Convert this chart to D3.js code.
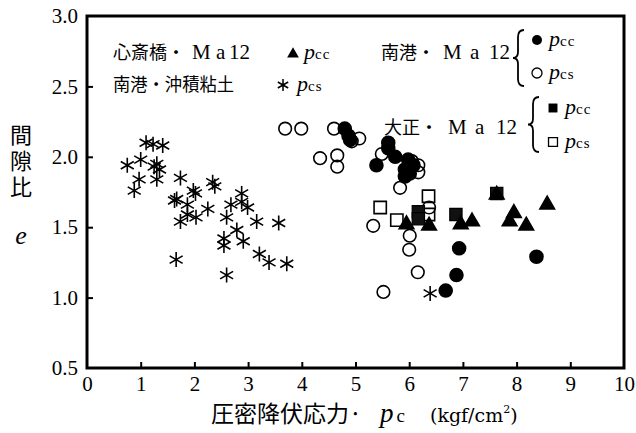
<!DOCTYPE html>
<html><head><meta charset="utf-8">
<script src="https://cdn.jsdelivr.net/npm/d3@7"></script>
<style>body{margin:0;background:#fff}</style>
</head><body>
<svg id="c" width="636" height="433"></svg>
<script>
// x: consolidation yield stress p_c (kgf/cm2), y: void ratio e
const xTicks = [0,1,2,3,4,5,6,7,8,9,10];
const yTicks = [0.5,1.0,1.5,2.0,2.5,3.0];

// 心斎橋・Ma12 p_cc (filled triangle)
const shinsaibashiPcc = [[5.95,1.52],[6.37,1.51],[6.96,1.52],[7.17,1.54],[7.63,1.73],[7.95,1.60],[7.87,1.54],[8.18,1.51],[8.57,1.66]];
// 南港・沖積粘土 p_cs (asterisk)
const nankoAlluvialPcs = [[1.10,2.10],[1.23,2.09],[1.41,2.08],[0.75,1.94],[1.00,1.98],[1.30,1.95],[1.35,1.91],[1.25,1.93],[0.97,1.84],[1.30,1.84],[0.88,1.76],[1.74,1.85],[1.98,1.76],[2.02,1.74],[2.34,1.82],[2.38,1.79],[1.63,1.69],[1.67,1.70],[1.87,1.66],[1.74,1.54],[1.87,1.59],[2.03,1.57],[2.25,1.63],[2.60,1.57],[2.68,1.66],[2.88,1.74],[2.88,1.68],[2.99,1.64],[2.79,1.48],[2.55,1.42],[2.55,1.37],[2.91,1.40],[3.16,1.54],[3.57,1.53],[3.21,1.31],[3.39,1.25],[3.72,1.24],[1.66,1.27],[2.60,1.16],[6.39,1.03]];
// 南港・Ma12 p_cc (filled circle)
const nankoMa12Pcc = [[4.80,2.20],[4.87,2.15],[4.90,2.12],[5.61,2.10],[5.61,2.06],[5.39,1.94],[5.74,2.00],[5.98,1.98],[6.08,1.94],[5.92,1.91],[5.92,1.86],[6.01,1.88],[6.93,1.35],[6.88,1.16],[6.68,1.05],[8.37,1.29]];
// 南港・Ma12 p_cs (open circle)
const nankoMa12Pcs = [[3.69,2.20],[3.99,2.20],[4.60,2.20],[4.34,1.99],[4.66,2.01],[4.66,1.93],[5.07,2.13],[4.93,2.11],[5.49,2.02],[5.83,1.78],[6.05,1.97],[6.17,1.94],[6.17,1.89],[5.33,1.51],[6.01,1.44],[6.00,1.34],[6.16,1.18],[5.52,1.04],[6.37,1.64]];
// 大正・Ma12 p_cc (filled square)
const taishoPcc = [[6.17,1.61],[6.17,1.56],[6.87,1.59],[7.63,1.74]];
// 大正・Ma12 p_cs (open square)
const taishoPcs = [[5.46,1.64],[5.77,1.55],[6.36,1.72],[6.36,1.59]];

const svg = d3.select("#c");
const W=636,H=433;
svg.append("rect").attr("width",W).attr("height",H).attr("fill","#fff");
const x = d3.scaleLinear().domain([0,10]).range([87,624]);
const y = d3.scaleLinear().domain([0.5,3.0]).range([368,16]);
const serif = "'Liberation Serif','DejaVu Serif',serif";
const dserif = "'DejaVu Serif','Liberation Serif',serif";
const cjk = "'Noto Sans CJK JP','Noto Sans CJK SC',sans-serif";

// axes (ticks pointing inward)
const xa = svg.append("g").attr("transform","translate(0,368)")
  .call(d3.axisBottom(x).tickValues(xTicks).tickSize(-6).tickPadding(8).tickFormat(d3.format("d")));
const ya = svg.append("g").attr("transform","translate(87,0)")
  .call(d3.axisLeft(y).tickValues(yTicks).tickSize(-6).tickPadding(8).tickFormat(d3.format(".1f")));
[xa,ya].forEach(g=>{
  g.select(".domain").remove();
  g.selectAll(".tick line").attr("stroke","#000").attr("stroke-width",2);
  g.selectAll(".tick text").attr("font-family",serif).attr("font-size",21).attr("fill","#000");
});
xa.selectAll(".tick").filter(d=>d===0||d===10).select("line").remove();
ya.selectAll(".tick").filter(d=>d===0.5||d===3.0).select("line").remove();
ya.selectAll(".tick text").attr("dx",-1);

// frame
svg.append("rect").attr("x",x(0)).attr("y",y(3)).attr("width",x(10)-x(0)).attr("height",y(0.5)-y(3))
  .attr("fill","none").attr("stroke","#000").attr("stroke-width",3);

// symbols
const tri = d3.symbol().type(d3.symbolTriangle).size(95)();
const sq = d3.symbol().type(d3.symbolSquare).size(150)();
function star(r){
  let p="";
  [90,30,150].forEach(a=>{const t=a*Math.PI/180;const dx=r*Math.cos(t),dy=r*Math.sin(t);
    p+=`M${-dx},${-dy}L${dx},${dy}`;});
  return p;
}
const plot = svg.append("g");
function drawPath(data,path,fill,stroke,sw){
  plot.selectAll(null).data(data).enter().append("path")
    .attr("d",path).attr("transform",d=>`translate(${x(d[0])},${y(d[1])})`)
    .attr("fill",fill).attr("stroke",stroke).attr("stroke-width",sw);
}
function drawCircle(data,fill){
  plot.selectAll(null).data(data).enter().append("circle")
    .attr("cx",d=>x(d[0])).attr("cy",d=>y(d[1])).attr("r",fill==="none"?6.3:6.5)
    .attr("fill",fill==="none"?"#fff":fill).attr("fill-opacity",fill==="none"?0:1)
    .attr("stroke","#000").attr("stroke-width",1.6);
}
drawCircle(nankoMa12Pcs,"none");
drawPath(taishoPcs,sq,"none","#000",1.6);
drawCircle(nankoMa12Pcc,"#000");
drawPath(taishoPcc,sq,"#111","#000",1.2);
drawPath(shinsaibashiPcc,tri,"#000","#000",1.5);
drawPath(nankoAlluvialPcs,star(7.5),"none","#000",1.6);

// legend
const lg = svg.append("g");
function label(xp,yp,cj,cjW,ma){
  lg.append("text").attr("x",xp).attr("y",yp).attr("fill","#000").attr("font-family",cjk).attr("font-size",18)
    .attr("textLength",cjW).attr("lengthAdjust","spacingAndGlyphs").text(cj);
  if(ma){
    const t = lg.append("text").attr("y",yp).attr("fill","#000").attr("font-family",serif).attr("font-size",21);
    t.append("tspan").attr("x",ma[0]).text("M");
    t.append("tspan").attr("x",ma[1]).text("a");
    t.append("tspan").attr("x",ma[2]).text("12");
  }
}
function pText(xp,yp,sub){
  const t = lg.append("text").attr("x",xp).attr("y",yp).attr("fill","#000").attr("font-family",serif);
  t.append("tspan").attr("font-size",22).attr("font-style","italic").text("p");
  t.append("tspan").attr("font-size",15).attr("letter-spacing",1).text(sub);
}
function brace(xp,y0,y1){
  const ym=(y0+y1)/2;
  const p=`M${xp+6},${y0} Q${xp},${y0} ${xp},${y0+7} L${xp},${ym-6} Q${xp},${ym} ${xp-5},${ym} Q${xp},${ym} ${xp},${ym+6} L${xp},${y1-7} Q${xp},${y1} ${xp+6},${y1}`;
  lg.append("path").attr("d",p).attr("fill","none").attr("stroke","#000").attr("stroke-width",1.8);
}
label(113,59,"心斎橋・",72,[192,216,229]);
lg.append("path").attr("d",d3.symbol().type(d3.symbolTriangle).size(60)()).attr("transform","translate(293,54)").attr("fill","#000");
pText(304,59,"cc");
label(113,91,"南港・沖積粘土",121);
lg.append("path").attr("d",star(6)).attr("transform","translate(283,85)").attr("stroke","#000").attr("stroke-width",1.5);
pText(297,91,"cs");
label(381,59,"南港・",54,[443,470,489]);
brace(518,30,86);
lg.append("circle").attr("cx",537).attr("cy",40).attr("r",5).attr("fill","#000");
pText(549,46,"cc");
lg.append("circle").attr("cx",537).attr("cy",73).attr("r",5).attr("fill","none").attr("stroke","#000").attr("stroke-width",1.3);
pText(549,79,"cs");
label(384,134,"大正・",54,[448,475,496]);
brace(533,97,152);
lg.append("path").attr("d",d3.symbol().type(d3.symbolSquare).size(80)()).attr("transform","translate(553,108)").attr("fill","#000");
pText(565,114,"cc");
lg.append("path").attr("d",d3.symbol().type(d3.symbolSquare).size(80)()).attr("transform","translate(553,142)").attr("fill","none").attr("stroke","#000").attr("stroke-width",1.3);
pText(565,148,"cs");

// axis titles
svg.append("text").attr("transform","translate(21,124)").attr("writing-mode","tb")
  .attr("font-family",cjk).attr("font-size",22).attr("letter-spacing",4).attr("fill","#000").text("間隙比");
svg.append("text").attr("x",21).attr("y",244).attr("text-anchor","middle").attr("font-family",serif).attr("font-style","italic").attr("font-size",26).attr("fill","#000").text("e");

const xt = svg.append("text").attr("y",422).attr("fill","#000");
xt.append("tspan").attr("x",211).attr("font-family",cjk).attr("font-size",23).text("圧密降伏応力·");
xt.append("tspan").attr("x",380).attr("font-family",serif).attr("font-style","italic").attr("font-size",27).text("p");
xt.append("tspan").attr("dx",3).attr("font-family",serif).attr("font-size",19).text("c");
xt.append("tspan").attr("x",430).attr("font-family",dserif).attr("font-size",19).text("(kgf/cm");
xt.append("tspan").attr("font-family",dserif).attr("font-size",11).attr("dy",-9).text("2");
xt.append("tspan").attr("font-family",dserif).attr("font-size",19).attr("dy",9).text(")");
</script>
</body></html>
